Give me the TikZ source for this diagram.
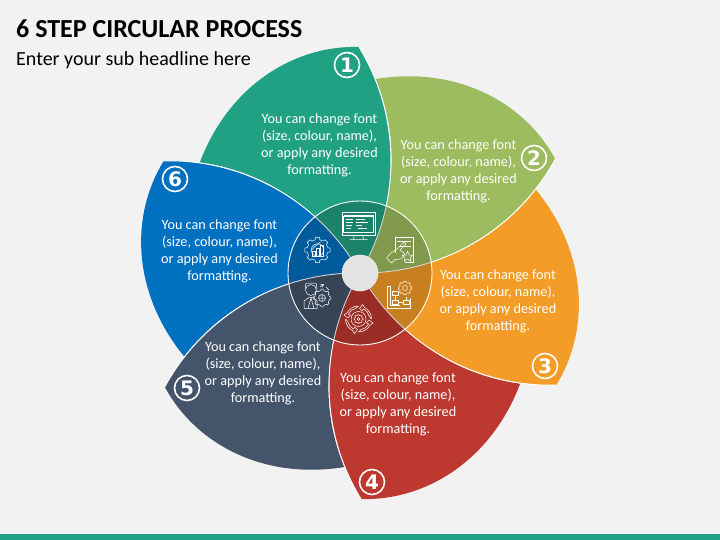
\documentclass[tikz,border=0pt]{standalone}
\usepackage{fontspec}
\setmainfont{Carlito}
\newfontfamily\numfont{DejaVu Sans}
\definecolor{bgc}{HTML}{F2F2F2}
\definecolor{pa}{HTML}{21A184}
\definecolor{pb}{HTML}{9DBB5F}
\definecolor{pc}{HTML}{F39C27}
\definecolor{pd}{HTML}{BD392F}
\definecolor{pe}{HTML}{44546A}
\definecolor{pf}{HTML}{0070C0}
\tikzset{
  bodytext/.style={text=white,font=\fontsize{14.2}{17}\selectfont,align=center,inner sep=0pt},
  numring/.style={circle,draw=white,line width=1.6pt,text=white,minimum size=25pt,inner sep=0pt,font=\numfont\fontsize{20}{20}\selectfont\bfseries},
  icon/.style={draw=white,line width=.5pt,line join=round},
  petaledge/.style={draw=white,line width=.9pt}
}
\newcommand{\petalfill}[2]{%
  \fill[#2,rotate=#1] (0,0) .. controls (41.4,69.6) and (41.4,156.4) .. (-1,226)
    .. controls (-63,228) and (-130,190) .. (-160.2,110.6)
    .. controls (-92.6,101.9) and (-33.3,59.5) .. (0,0) -- cycle;}
\newcommand{\petalline}[1]{%
  \draw[petaledge,rotate=#1] (0,0) .. controls (41.4,69.6) and (41.4,156.4) .. (-1,226);}
\newcommand{\gearicon}[5]{% x y radius step toothwidth
  \begin{scope}[shift={(#1,#2)}]
    \foreach \a in {0,#4,...,359}{\draw[icon,rotate=\a] (-#5,#3) -- (-#5*.8,#3+#5) -- (#5*.8,#3+#5) -- (#5,#3);}
    \foreach \a in {0,#4,...,359}{\draw[icon,rotate=\a] (#5,#3) arc[start angle={90-asin(#5/#3)},end angle={90-#4+asin(#5/#3)},radius=#3];}
  \end{scope}}
\begin{document}
\begin{tikzpicture}[x=1pt,y=1pt]
\useasboundingbox (0,0) rectangle (720,-540);
\fill[bgc] (0,0) rectangle (720,-540);
\fill[pa] (0,-534) rectangle (720,-540);
\node[anchor=west,inner sep=0pt,font=\fontsize{26}{26}\selectfont\bfseries] (title) at (16,-28.5) {6 STEP CIRCULAR PROCESS};
\node[anchor=west,inner sep=0pt,font=\fontsize{20}{20}\selectfont] (sub) at (16,-60) {Enter your sub headline here};
\begin{scope}[shift={(360,-273)}]
  \petalfill{0}{pa}\petalfill{-60}{pb}\petalfill{-120}{pc}\petalfill{-180}{pd}\petalfill{-240}{pe}\petalfill{-300}{pf}
  \foreach \r in {0,-60,...,-300}{\petalline{\r}}
  \fill[black,opacity=.18] (0,0) circle (72);
  \draw[white,line width=.9pt] (0,0) circle (72);
  \fill[gray!22] (0,0) circle (18);
  \draw[gray!10,line width=.5pt] (0,0) circle (18);
  % monitor
  \begin{scope}[shift={(-1.5,47)}]
    \draw[icon] (-16.5,-9) rectangle (16.5,13.5);
    \draw[icon] (-15,-6.5) rectangle (15,9.5);
    \draw[icon] (-15,11) -- (15,11);
    \draw[icon] (-4,-9) -- (-5,-13) (4,-9) -- (5,-13) (-9,-13.5) -- (9,-13.5);
    \draw[icon] (-13,7) -- (-6,7) (-13,4) -- (-6,4) (-13,1) -- (-7,1) (-13,-2) -- (-8,-2);
    \draw[icon] (-3,7) -- (6,7) (-3,4) -- (9,4) (-3,1) -- (3,1) (-1,-2) -- (8,-2);
  \end{scope}
  % hand on sheet
  \begin{scope}[shift={(40,23)}]
    \draw[icon] (-5,-3) -- (-5,13) -- (13,13) -- (13,-12) -- (5,-12);
    \draw[icon] (-3,8.5) -- (11,8.5) (-1,4) -- (11,4);
    \draw[icon] (-13.5,-8) -- (-8.5,-13) -- (-5,-9.5) -- (1,-9) -- (5,-4) -- (0,0) -- (6,6) -- (4,8) -- (-3,1) -- (-9,-3) -- cycle;
    \draw[icon] (7.5,-1) -- (9,-5) -- (13,-5) -- (10,-7.5) -- (11,-11.5) -- (7.5,-9) -- (4,-11.5) -- (5,-7.5) -- (2,-5) -- (6,-5) -- cycle;
  \end{scope}
  % flow chart and gear
  \begin{scope}[shift={(40,-22)}]
    \draw[icon] (-13,9) -- (-13,-13) -- (10,-13) -- (10,-3);
    \draw[icon] (-13,9) -- (-10,9) -- (-10,-10) -- (0,-10);
    \draw[icon] (-8,0) rectangle (-2,4) (-8,-9) rectangle (-2,-5) (3,-9) rectangle (9,-5);
    \draw[icon] (-5,0) -- (-5,-5) (-2,-7) -- (3,-7) (6,-5) -- (6,-2);
  \end{scope}
  \gearicon{45}{-15}{5.5}{45}{1.2}
  \draw[icon] (45,-15) circle (2.5);
  % circular arrows
  \begin{scope}[shift={(-1.5,-46)}]
    \foreach \a in {0,90,180,270}{
      \begin{scope}[rotate=\a]
        \draw[icon] (13,0) arc (0:62:13) -- (4,14.5) -- (1,10.5) -- (4,8) -- (4.8,10.2) arc (65:10:10.5) -- cycle;
      \end{scope}}
    \draw[icon] (0,0) circle (7.5);
    \draw[icon] (0,0) circle (1.5);
  \end{scope}
  \gearicon{-1.5}{-46}{3.7}{45}{.8}
  % person with gear
  \begin{scope}[shift={(-43,-23)}]
    \draw[icon] (-6,6) circle (5.5);
    \draw[icon] (-12,7) -- (-11,13) -- (-1,13) -- (0,7);
    \draw[icon] (-13,-12.5) -- (-13,-5) -- (-8,-1.5) -- (-3,-1.5) -- (0,-5) -- (0,-12.5) -- cycle;
    \draw[icon] (-9,-12.5) -- (-6,-2) -- (-3,-12.5);
    \draw[icon] (5,-2) circle (3.5) (5,-5.5) -- (5,1.5) (1.5,-2) -- (8.5,-2);
    \draw[icon,->,>=stealth] (3,9) -- (7,12);
    \draw[icon] (9,9) -- (12,6);
  \end{scope}
  \gearicon{-38}{-25}{7.5}{45}{1.3}
  % gear with bars
  \gearicon{-42.5}{23}{10.2}{45}{2.4}
  \begin{scope}[shift={(-42.5,23)}]
    \draw[icon] (0,0) circle (6.2);
    \draw[icon] (-5,-6) rectangle (-2,-1) (-1,-6) rectangle (2,2) (3,-6) rectangle (6,5);
    \draw[icon] (-6,0) -- (-1,5) -- (3,8);
  \end{scope}
\end{scope}
\node[bodytext] (t1) at (319.5,-145.5) {You can change font\\(size, colour, name),\\or apply any desired\\formatting.};
\node[bodytext] (t2) at (458.5,-171.5) {You can change font\\(size, colour, name),\\or apply any desired\\formatting.};
\node[bodytext] (t3) at (498,-301.5) {You can change font\\(size, colour, name),\\or apply any desired\\formatting.};
\node[bodytext] (t4) at (398,-404.5) {You can change font\\(size, colour, name),\\or apply any desired\\formatting.};
\node[bodytext] (t5) at (263,-373.5) {You can change font\\(size, colour, name),\\or apply any desired\\formatting.};
\node[bodytext] (t6) at (219.5,-251.5) {You can change font\\(size, colour, name),\\or apply any desired\\formatting.};
\node[numring] (n1) at (347,-65) {1};
\node[numring] (n2) at (534,-158) {2};
\node[numring] (n3) at (545,-366) {3};
\node[numring] (n4) at (372,-482) {4};
\node[numring] (n5) at (187,-388) {5};
\node[numring] (n6) at (175,-179) {6};
\end{tikzpicture}
\end{document}
